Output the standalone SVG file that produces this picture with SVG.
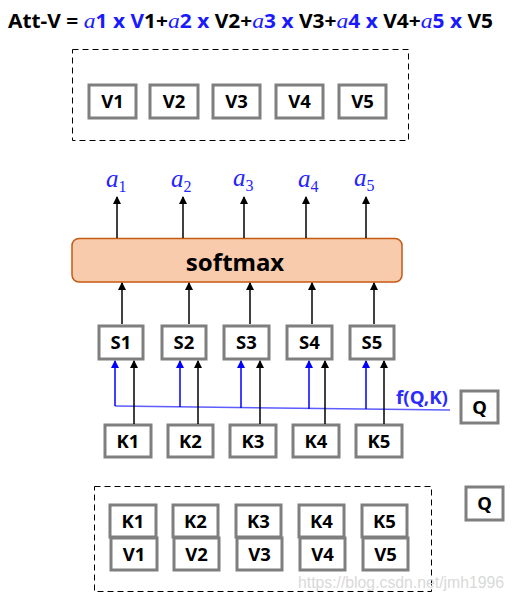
<svg xmlns="http://www.w3.org/2000/svg" width="515" height="603" viewBox="0 0 515 603">
<defs>
<style>
.box{fill:#fff;stroke:#7f7f7f;stroke-width:3}
.lbl{font-family:"Noto Sans","Open Sans",sans-serif;font-weight:bold;font-size:18.5px;fill:#000;text-anchor:middle}
.dash{fill:none;stroke:#000;stroke-width:1;stroke-dasharray:6,4}
.ln{stroke:#000;stroke-width:1.5;fill:none}
.bl{stroke:#0000ff;stroke-width:1.5;fill:none}
.al{font-family:"Liberation Serif",serif;font-style:italic;font-size:25px;fill:#2424ff}
.sub{font-family:"Liberation Serif",serif;font-style:normal;font-size:16px}
.ta{fill:#1a1aff;font-family:"Liberation Serif",serif;font-style:italic;font-weight:normal;font-size:22px}
.tb{fill:#1a1aff}
</style>
<marker id="ah" markerWidth="8" markerHeight="8" refX="7" refY="4" orient="auto" markerUnits="userSpaceOnUse"><path d="M0,0 L8,4 L0,8 Z" fill="#000"/></marker>
<marker id="ahb" markerWidth="8" markerHeight="8" refX="7" refY="4" orient="auto" markerUnits="userSpaceOnUse"><path d="M0,0 L8,4 L0,8 Z" fill="#0000ff"/></marker>
</defs>
<rect width="515" height="603" fill="#fff"/>

<g id="title">
<text x="8" y="27.5" font-family="Noto Sans,Open Sans,sans-serif" font-weight="bold" font-size="19.5" textLength="485" lengthAdjust="spacingAndGlyphs">Att-V = <tspan class="ta">a</tspan><tspan class="tb">1 x V</tspan>1+<tspan class="ta">a</tspan><tspan class="tb">2 x </tspan>V2+<tspan class="ta">a</tspan><tspan class="tb">3 x </tspan>V3+<tspan class="ta">a</tspan><tspan class="tb">4 x </tspan>V4+<tspan class="ta">a</tspan><tspan class="tb">5 x </tspan>V5</text>
</g>

<g id="topV">
<rect class="dash" x="72.5" y="49.5" width="336" height="91"/>
<g id="tV1"><rect class="box" x="89" y="85" width="47" height="33"/><text class="lbl" x="112.5" y="108">V1</text></g>
<g id="tV2"><rect class="box" x="150" y="85" width="48" height="33"/><text class="lbl" x="174" y="108">V2</text></g>
<g id="tV3"><rect class="box" x="213" y="85" width="47" height="33"/><text class="lbl" x="236.5" y="108">V3</text></g>
<g id="tV4"><rect class="box" x="276" y="85" width="47" height="33"/><text class="lbl" x="299.5" y="108">V4</text></g>
<g id="tV5"><rect class="box" x="339" y="85" width="47" height="33"/><text class="lbl" x="362.5" y="108">V5</text></g>
</g>

<g id="alphas">
<text class="al" x="106" y="187">a<tspan class="sub" dy="5">1</tspan></text>
<text class="al" x="171" y="187">a<tspan class="sub" dy="5">2</tspan></text>
<text class="al" x="233" y="186">a<tspan class="sub" dy="5">3</tspan></text>
<text class="al" x="298" y="187">a<tspan class="sub" dy="5">4</tspan></text>
<text class="al" x="354" y="186">a<tspan class="sub" dy="5">5</tspan></text>
</g>

<g id="softmax">
<rect x="72" y="238.5" width="330" height="43.5" rx="7" fill="#f8cbad" stroke="#c55a11" stroke-width="1.5"/>
<text x="235" y="271" font-family="Noto Sans,Open Sans,sans-serif" font-weight="bold" font-size="24" text-anchor="middle">softmax</text>
</g>

<g id="S">
<g id="S1"><rect class="box" x="99" y="326" width="44" height="33"/><text class="lbl" x="121" y="349">S1</text></g>
<g id="S2"><rect class="box" x="162" y="326" width="44" height="33"/><text class="lbl" x="184" y="349">S2</text></g>
<g id="S3"><rect class="box" x="224" y="326" width="45" height="33"/><text class="lbl" x="246.5" y="349">S3</text></g>
<g id="S4"><rect class="box" x="287" y="326" width="45" height="33"/><text class="lbl" x="309.5" y="349">S4</text></g>
<g id="S5"><rect class="box" x="350" y="326" width="44" height="33"/><text class="lbl" x="372" y="349">S5</text></g>
</g>

<g id="K">
<g id="K1"><rect class="box" x="105" y="425" width="46" height="32"/><text class="lbl" x="128" y="447.5">K1</text></g>
<g id="K2"><rect class="box" x="168" y="425" width="45" height="32"/><text class="lbl" x="190.5" y="447.5">K2</text></g>
<g id="K3"><rect class="box" x="230" y="425" width="46" height="32"/><text class="lbl" x="253" y="447.5">K3</text></g>
<g id="K4"><rect class="box" x="293" y="425" width="46" height="32"/><text class="lbl" x="316" y="447.5">K4</text></g>
<g id="K5"><rect class="box" x="356" y="425" width="46" height="32"/><text class="lbl" x="379" y="447.5">K5</text></g>
</g>

<g id="Q1"><rect class="box" x="461" y="391" width="37" height="32"/><text class="lbl" x="479.5" y="413.5">Q</text></g>

<g id="fQK"><text x="396" y="403.5" font-family="Noto Sans,Open Sans,sans-serif" font-weight="bold" font-size="17.5" fill="#2b2bff" textLength="52" lengthAdjust="spacingAndGlyphs">f(Q,K)</text></g>

<g id="connectors">
<line class="ln" x1="117" y1="238" x2="117" y2="197" marker-end="url(#ah)"/>
<line class="ln" x1="183" y1="238" x2="183" y2="197" marker-end="url(#ah)"/>
<line class="ln" x1="244" y1="238" x2="244" y2="197" marker-end="url(#ah)"/>
<line class="ln" x1="306" y1="238" x2="306" y2="197" marker-end="url(#ah)"/>
<line class="ln" x1="366" y1="238" x2="366" y2="197" marker-end="url(#ah)"/>

<line class="ln" x1="122" y1="324" x2="122" y2="283" marker-end="url(#ah)"/>
<line class="ln" x1="189" y1="324" x2="189" y2="283" marker-end="url(#ah)"/>
<line class="ln" x1="250" y1="324" x2="250" y2="283" marker-end="url(#ah)"/>
<line class="ln" x1="312" y1="324" x2="312" y2="283" marker-end="url(#ah)"/>
<line class="ln" x1="374" y1="324" x2="374" y2="283" marker-end="url(#ah)"/>

<line x1="115" y1="406" x2="450" y2="410" stroke="#5c5cff" stroke-width="1.5"/>
<line class="bl" x1="115" y1="406" x2="115" y2="361" marker-end="url(#ahb)"/>
<line class="bl" x1="180" y1="407" x2="180" y2="361" marker-end="url(#ahb)"/>
<line class="bl" x1="241" y1="408" x2="241" y2="361" marker-end="url(#ahb)"/>
<line class="bl" x1="309" y1="409" x2="309" y2="361" marker-end="url(#ahb)"/>
<line class="bl" x1="366" y1="409" x2="366" y2="361" marker-end="url(#ahb)"/>

<line class="ln" x1="134" y1="424" x2="134" y2="361" marker-end="url(#ah)"/>
<line class="ln" x1="198" y1="424" x2="198" y2="361" marker-end="url(#ah)"/>
<line class="ln" x1="260" y1="424" x2="260" y2="361" marker-end="url(#ah)"/>
<line class="ln" x1="325" y1="424" x2="325" y2="361" marker-end="url(#ah)"/>
<line class="ln" x1="384" y1="424" x2="384" y2="361" marker-end="url(#ah)"/>
</g>

<g id="bottomKV">
<rect class="dash" x="94.5" y="486.5" width="337" height="105"/>
<g id="bK1"><rect class="box" x="110" y="505" width="46" height="32"/><text class="lbl" x="133" y="527.5">K1</text></g>
<g id="bV1"><rect class="box" x="111" y="538" width="46" height="32"/><text class="lbl" x="134" y="560.5">V1</text></g>
<g id="bK2"><rect class="box" x="173" y="505" width="45" height="32"/><text class="lbl" x="195.5" y="527.5">K2</text></g>
<g id="bV2"><rect class="box" x="174" y="538" width="45" height="32"/><text class="lbl" x="196.5" y="560.5">V2</text></g>
<g id="bK3"><rect class="box" x="236" y="505" width="45" height="32"/><text class="lbl" x="258.5" y="527.5">K3</text></g>
<g id="bV3"><rect class="box" x="237" y="538" width="45" height="32"/><text class="lbl" x="259.5" y="560.5">V3</text></g>
<g id="bK4"><rect class="box" x="299" y="505" width="45" height="32"/><text class="lbl" x="321.5" y="527.5">K4</text></g>
<g id="bV4"><rect class="box" x="300" y="538" width="45" height="32"/><text class="lbl" x="322.5" y="560.5">V4</text></g>
<g id="bK5"><rect class="box" x="362" y="505" width="45" height="32"/><text class="lbl" x="384.5" y="527.5">K5</text></g>
<g id="bV5"><rect class="box" x="363" y="538" width="45" height="32"/><text class="lbl" x="385.5" y="560.5">V5</text></g>
</g>

<g id="Q2"><rect class="box" x="466" y="487" width="37" height="33"/><text class="lbl" x="484.5" y="510">Q</text></g>

<text x="298" y="588" font-family="Liberation Sans,Arial,sans-serif" font-size="17" fill="#d9d9d9" textLength="206" lengthAdjust="spacingAndGlyphs">https://blog.csdn.net/jmh1996</text>
</svg>
